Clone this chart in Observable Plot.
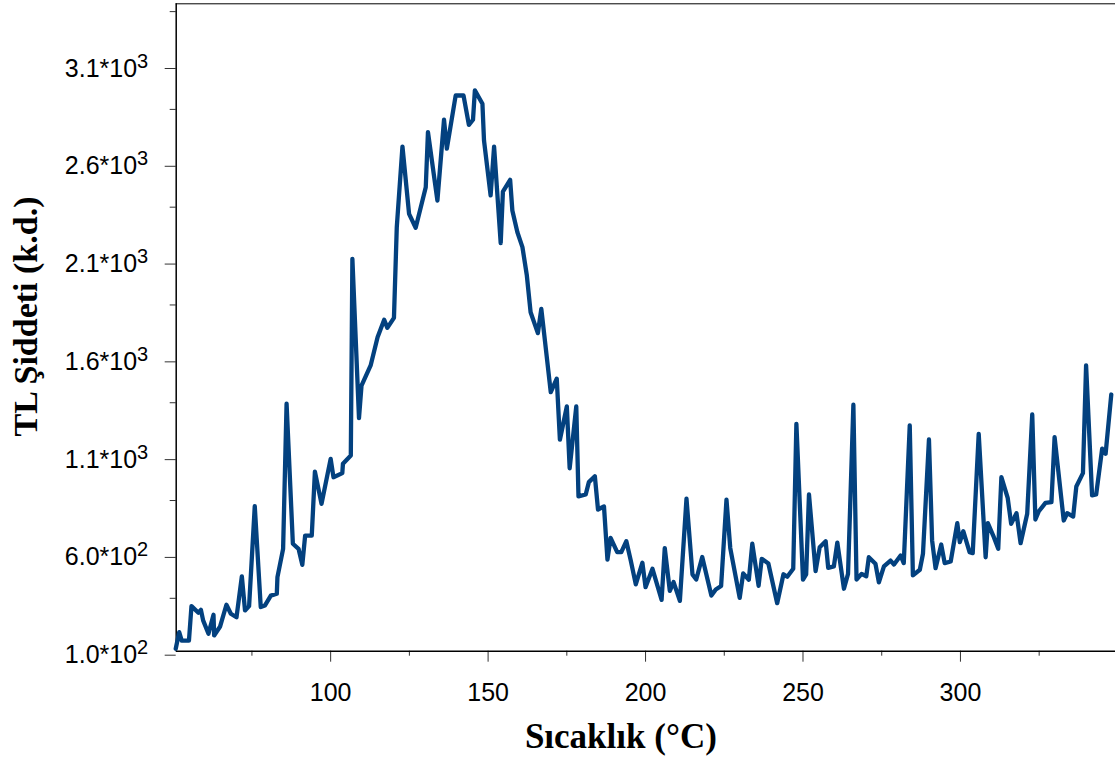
<!DOCTYPE html>
<html>
<head>
<meta charset="utf-8">
<script src="https://cdn.jsdelivr.net/npm/d3@7"></script>
<script src="https://cdn.jsdelivr.net/npm/@observablehq/plot@0.6"></script>
<style>
  html, body { margin: 0; padding: 0; background: #ffffff; }
  #chart svg { display: block; }
</style>
</head>
<body>
<div id="chart"></div>
<script>
// Glow curve: temperature (°C) and TL intensity (a.u.)
const temperature = [50.8,51.9,52.7,55.0,55.8,58.0,58.8,59.5,61.2,62.8,
  63.0,64.9,66.9,68.3,70.1,71.8,72.8,74.1,75.9,77.8,
  79.1,81.0,82.9,83.1,84.9,86.0,88.0,89.8,91.0,91.9,
  94.0,95.0,97.1,100.0,100.9,103.7,103.9,106.4,106.9,109.0,
  109.8,112.7,114.9,117.0,118.0,120.1,121.0,122.8,124.9,127.0,
  130.2,130.9,133.9,136.0,136.9,139.7,142.2,143.9,145.2,145.8,
  148.2,148.7,150.8,151.9,154.0,154.7,157.0,157.7,159.3,160.9,
  162.3,163.5,165.8,166.9,169.9,171.8,172.8,175.0,175.9,178.0,
  178.7,181.0,182.0,183.9,184.9,186.8,187.9,188.9,191.0,192.3,
  193.9,195.3,196.9,199.0,200.0,202.2,205.1,206.1,207.7,208.9,
  210.9,213.0,214.9,216.1,218.0,220.9,222.3,224.0,225.7,226.9,
  229.9,231.0,232.8,233.9,235.9,236.9,239.0,241.8,243.8,245.0,
  246.9,247.9,250.0,251.0,251.9,254.0,255.3,257.2,258.0,259.8,
  260.9,263.0,264.3,266.0,267.0,268.6,270.1,270.9,273.0,274.1,
  275.7,277.8,278.9,281.0,282.0,283.9,284.9,287.1,288.1,290.0,
  291.0,292.1,293.9,295.0,296.9,299.0,299.8,300.9,302.9,303.9,
  305.8,308.0,308.7,310.4,312.0,313.0,315.0,316.1,317.8,319.1,
  321.2,322.8,323.8,324.9,327.0,328.9,329.9,332.8,333.9,335.8,
  336.8,338.9,339.9,341.8,343.1,345.0,346.1,347.9];

const intensity = [92,177,134,134,310,276,291,237,169,266,
  160,206,317,271,253,462,288,310,821,305,
  313,364,373,458,603,1345,629,603,521,671,
  671,998,833,1063,969,990,1038,1080,2086,1271,
  1438,1541,1685,1774,1733,1784,2248,2660,2316,2245,
  2452,2734,2384,2797,2649,2921,2921,2771,2797,2947,
  2879,2691,2410,2660,2166,2430,2490,2333,2222,2146,
  2001,1813,1706,1830,1404,1473,1161,1331,1015,1331,
  871,881,944,974,804,820,548,659,586,586,
  642,543,421,532,407,501,342,607,388,433,
  337,859,472,446,561,364,395,413,854,607,
  352,477,445,629,414,552,528,325,473,460,
  501,1242,445,472,881,489,611,642,506,513,
  635,399,475,1340,446,475,463,560,527,432,
  513,543,523,569,530,1234,467,496,578,1162,
  646,504,625,530,538,734,637,693,586,581,
  1191,560,734,671,603,969,864,731,785,632,
  782,1290,753,795,838,842,1174,748,785,768,
  922,990,1541,876,881,1115,1089,1392];

// Axis extents and ticks
const xDomain = [50.95, 349.24];
const yDomain = [79.5, 3390];
const xTicks = [100, 150, 200, 250, 300];
const xMinorTicks = [75, 125, 175, 225, 275, 325];
const yTicks = [100, 600, 1100, 1600, 2100, 2600, 3100];
const yTickLabels = ["1.0*10^2", "6.0*10^2", "1.1*10^3", "1.6*10^3", "2.1*10^3", "2.6*10^3", "3.1*10^3"];
const yMinorTicks = [350, 850, 1350, 1850, 2350, 2850, 3350];

const xTitle = "Sıcaklık (°C)";
const yTitle = "TL Şiddeti (k.d.)";

const rows = temperature.map((t, i) => ({t, v: intensity[i]}));
const serif = "'Liberation Serif', 'Times New Roman', serif";

const chart = Plot.plot({
  width: 1115,
  height: 760,
  marginLeft: 175.7,
  marginRight: 0,
  marginTop: 3.3,
  marginBottom: 109.3,
  x: {domain: xDomain, label: null},
  y: {domain: yDomain, label: null},
  style: {
    fontFamily: "'Liberation Sans', Arial, sans-serif",
    fontSize: "25px",
    color: "#000",
    background: "#fff",
    overflow: "visible"
  },
  marks: [
    // minor ticks
    Plot.axisY({ticks: yMinorTicks, tickSize: 6, tickFormat: () => "", stroke: "#333", label: null}),
    Plot.axisX({ticks: xMinorTicks, tickSize: 5, tickFormat: () => "", stroke: "#333", label: null}),
    // major ticks with labels
    Plot.axisY({
      ticks: yTicks, tickSize: 11, tickPadding: 17, stroke: "#333", label: null,
      tickFormat: d => yTickLabels[yTicks.indexOf(d)], dy: 8, fontSize: 25
    }),
    Plot.axisX({
      ticks: xTicks, tickSize: 11, tickPadding: 21, stroke: "#333", label: null,
      tickFormat: d => String(d), fontSize: 25
    }),
    // axis lines and top border
    Plot.ruleX([xDomain[0]], {stroke: "#000", strokeWidth: 1.5}),
    Plot.ruleY([yDomain[0]], {stroke: "#000", strokeWidth: 1.5}),
    Plot.ruleY([yDomain[1]], {stroke: "#000", strokeWidth: 1}),
    // glow curve
    Plot.line(rows, {x: "t", y: "v", stroke: "#03417f", strokeWidth: 4.3, clip: false}),
    // axis titles
    Plot.text([xTitle], {
      frameAnchor: "bottom", lineAnchor: "middle", textAnchor: "middle", dx: -25, dy: 86,
      fontFamily: serif, fontWeight: "bold", fontSize: 35, fill: "#000"
    }),
    Plot.text([yTitle], {
      frameAnchor: "left", lineAnchor: "middle", textAnchor: "middle", rotate: -90, dx: -150, dy: -11,
      fontFamily: serif, fontWeight: "bold", fontSize: 34, fill: "#000"
    })
  ]
});

// Write the powers of ten in the y tick labels as superscripts
d3.select(chart).selectAll('g[aria-label="y-axis tick label"] text').each(function () {
  const parts = this.textContent.split("^");
  if (parts.length < 2) return;
  const t = d3.select(this);
  t.text(parts[0]);
  t.append("tspan").attr("dy", "-0.45em").attr("font-size", "0.8em").text(parts[1]);
});

document.getElementById("chart").appendChild(chart);
</script>
</body>
</html>
